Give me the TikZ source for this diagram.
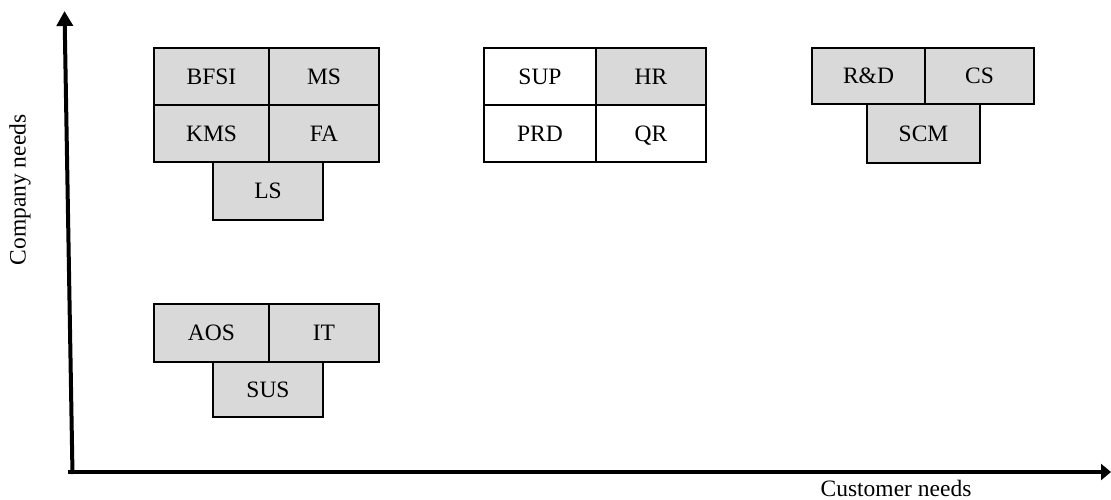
\documentclass[tikz,border=0pt]{standalone}
\usepackage{fontspec}
\setmainfont{Liberation Serif}
\usetikzlibrary{arrows.meta}
\definecolor{cellgray}{HTML}{D9D9D9}
\tikzset{
  lbl/.style={font=\fontsize{23.5}{28}\selectfont, inner sep=0pt, outer sep=0pt},
  cell/.style={lbl, draw=black, line width=2pt, text height=15.6pt, text depth=0pt},
  grayc/.style={cell, fill=cellgray},
  whitec/.style={cell, fill=white},
  axisline/.style={line width=4pt},
}
% #1 name, #2 x1, #3 y1, #4 x2, #5 y2, #6 style, #7 text
\newcommand\mycell[7]{%
  \node[#6, minimum width={(#4-#2)*1pt}, minimum height={(#5-#3)*1pt}]
    (#1) at ({(#2+#4)/2},{(#3+#5)/2}) {#7};}
\begin{document}
\begin{tikzpicture}[x=1pt,y=-1pt]
\useasboundingbox (0,0) rectangle (1111,499);
% axes
\coordinate (O) at (72.5,474);
\coordinate (ytip) at (64.5,11);
\coordinate (xs) at (68,472);
\coordinate (xtip) at (1111,472);
\draw[axisline, -{Triangle[length=15pt,width=16pt]}] (O) -- (ytip);
\draw[axisline, -{Triangle[length=10pt,width=16pt]}] (xs) -- (xtip);
\node[lbl, rotate=90] (ylab) at (20,190) {Company needs};
\node[lbl, anchor=base] (xlab) at (896,496) {Customer needs};
% group 1
\mycell{bfsi}{154}{48}{269}{105}{grayc}{BFSI}
\mycell{ms}{269}{48}{379}{105}{grayc}{MS}
\mycell{kms}{154}{105}{269}{162}{grayc}{KMS}
\mycell{fa}{269}{105}{379}{162}{grayc}{FA}
\mycell{ls}{213}{162}{323}{220}{grayc}{LS}
% group 2
\mycell{sup}{484}{48}{596}{105}{whitec}{SUP}
\mycell{hr}{596}{48}{706}{105}{grayc}{HR}
\mycell{prd}{484}{105}{596}{162}{whitec}{PRD}
\mycell{qr}{596}{105}{706}{162}{whitec}{QR}
% group 3
\mycell{rd}{812}{48}{925}{104}{grayc}{R\&D}
\mycell{cs}{925}{48}{1034}{104}{grayc}{CS}
\mycell{scm}{867}{104}{980}{163}{grayc}{SCM}
% group 4
\mycell{aos}{154}{304}{269}{362}{grayc}{AOS}
\mycell{it}{269}{304}{379}{362}{grayc}{IT}
\mycell{sus}{213}{362}{323}{417}{grayc}{SUS}
\end{tikzpicture}
\end{document}
